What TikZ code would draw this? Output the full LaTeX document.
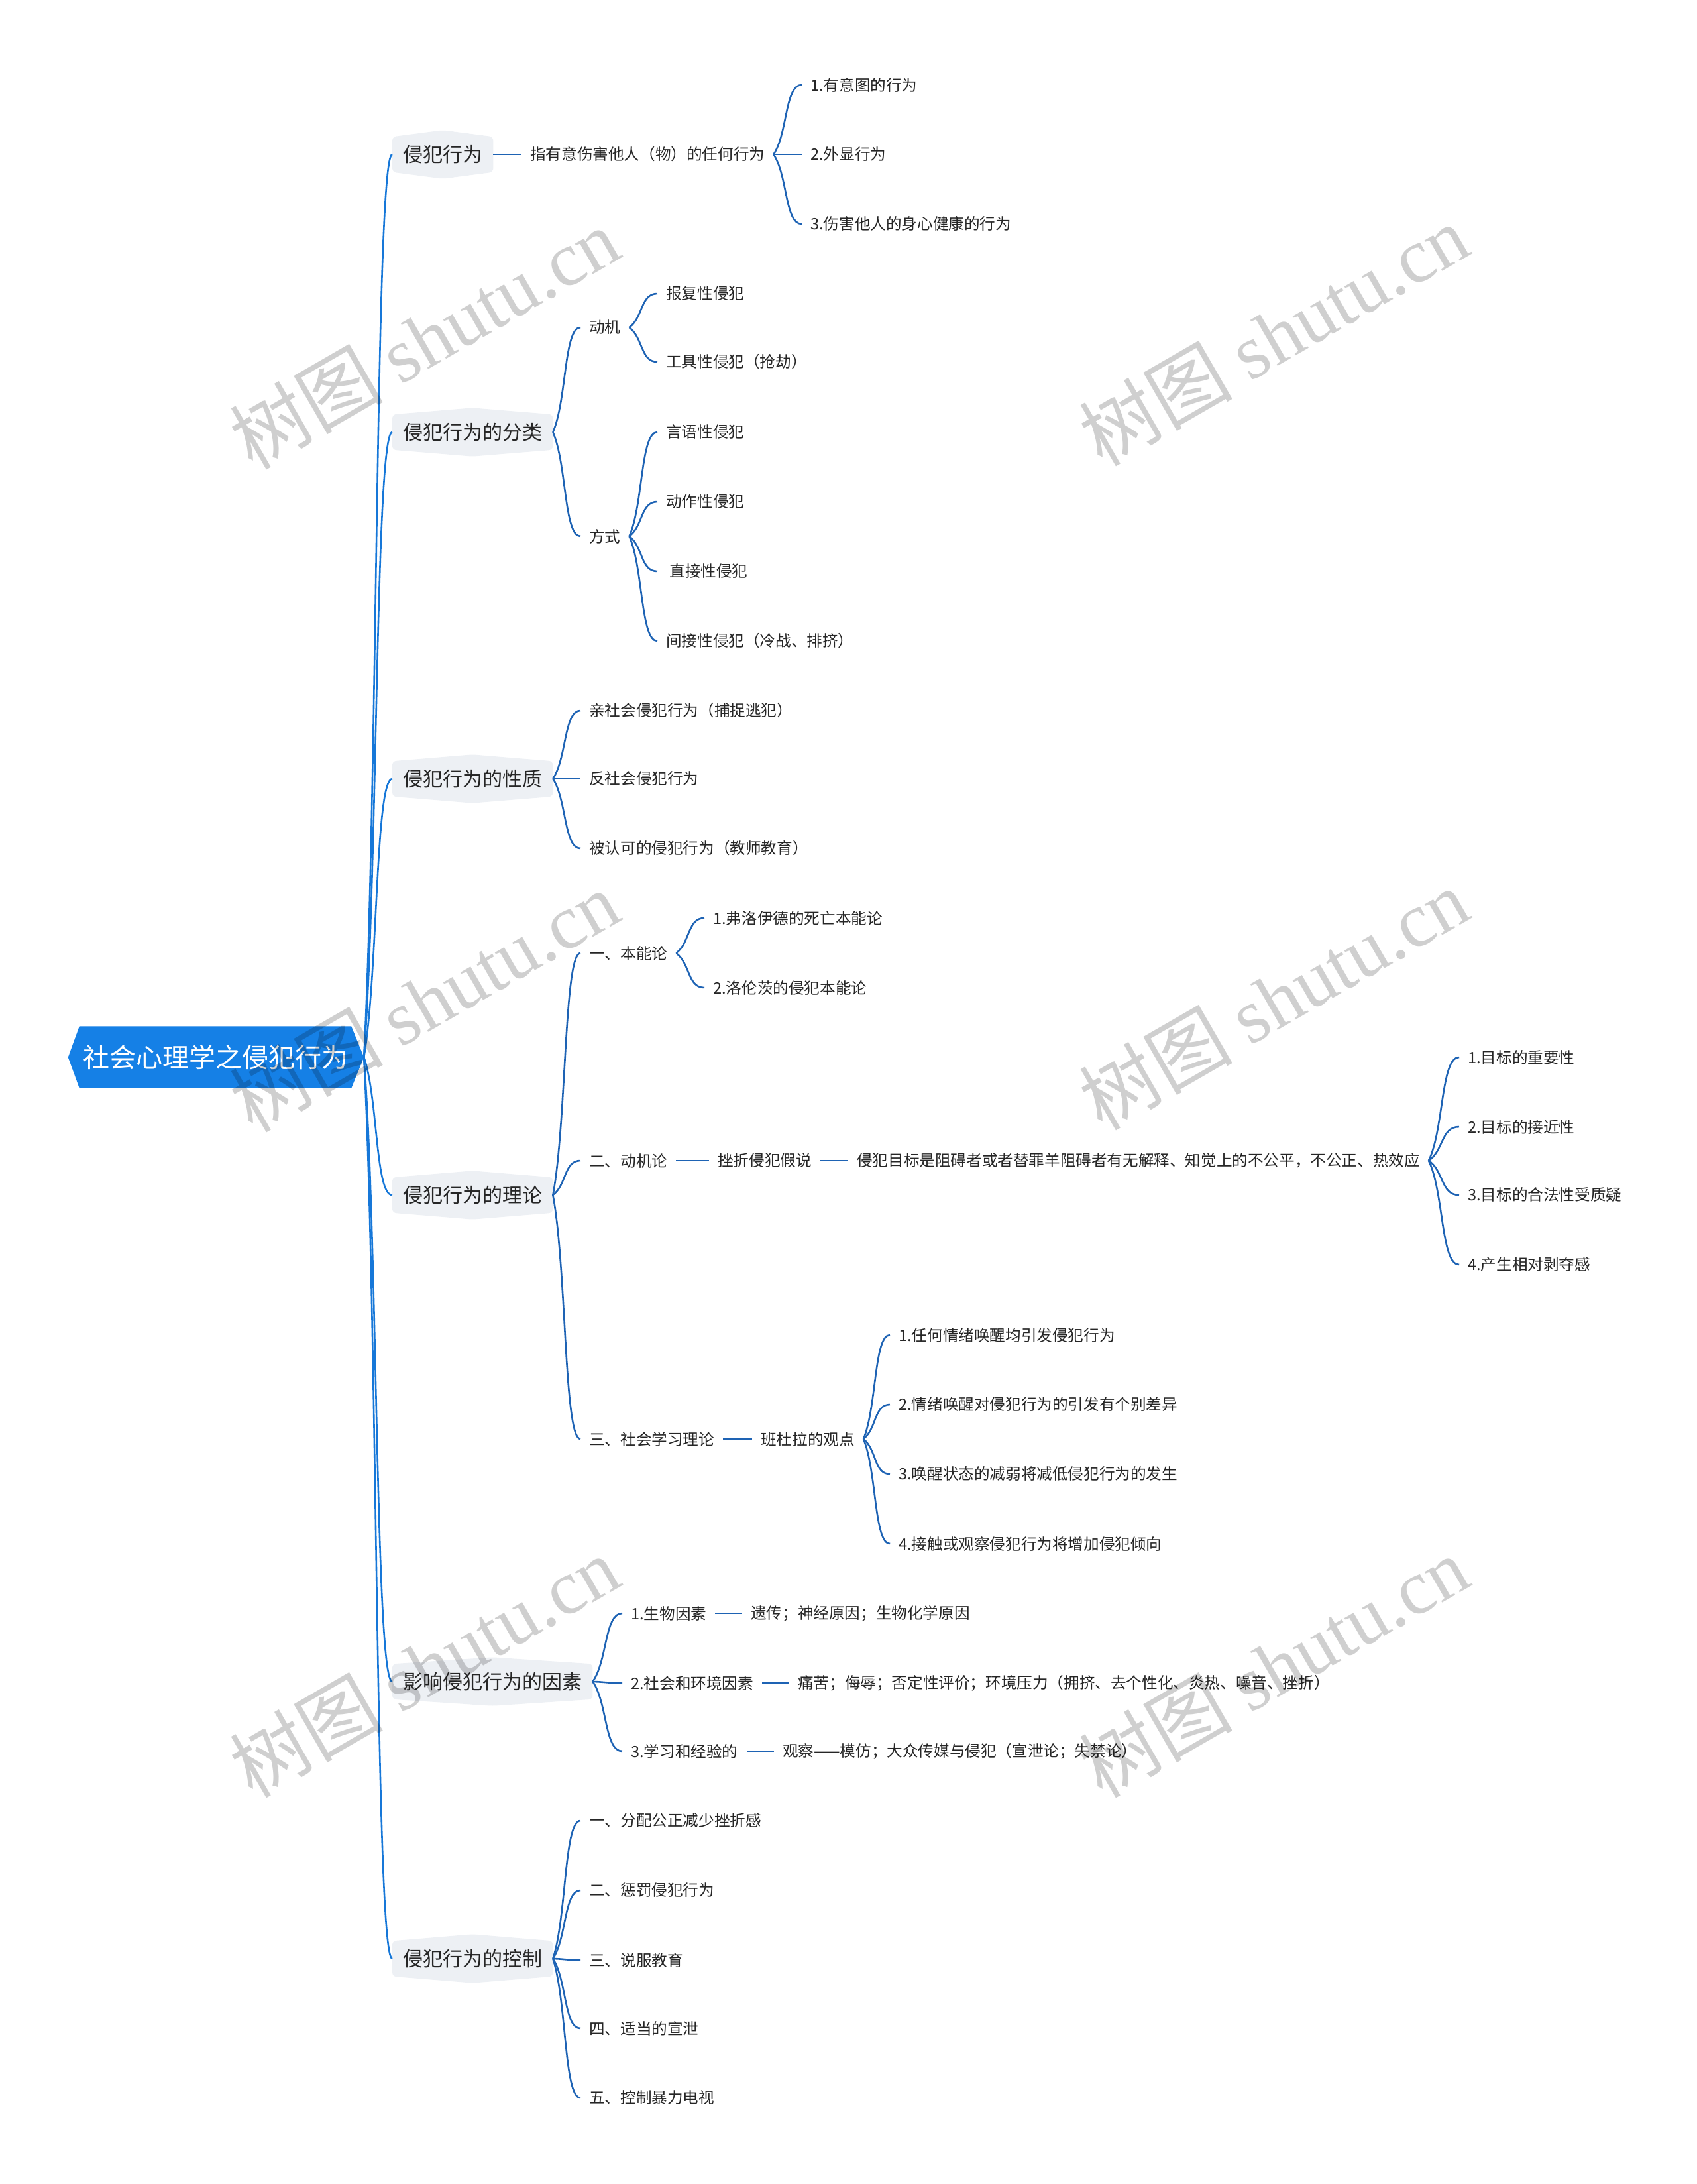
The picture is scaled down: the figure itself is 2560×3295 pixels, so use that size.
\documentclass[tikz,border=0pt]{standalone}
\usepackage{fontspec}
\setmainfont{Noto Sans CJK SC}
\newfontfamily\wmserif{Liberation Serif}
\usetikzlibrary{calc,positioning,backgrounds}
\definecolor{rootblue}{HTML}{1580E6}
\definecolor{trunkblue}{HTML}{1677D8}
\definecolor{linkblue}{HTML}{1E63B4}
\definecolor{topicgray}{HTML}{EDF0F4}
\definecolor{inkgray}{HTML}{262626}

\tikzset{
  brace/.style={to path={let \p1=(\tikztostart), \p2=(\tikztotarget) in
    .. controls ({\x1+0.5*(\x2-\x1)},{\y1+0.3*(\y2-\y1)}) and ({\x1+0.4*(\x2-\x1)},\y2) .. (\tikztotarget)}},
  rootnode/.style={font=\fontsize{40}{48}\selectfont, text=white, inner xsep=5pt, minimum height=93pt},
  topicnode/.style={font=\fontsize{30}{36}\selectfont, text=inkgray, inner xsep=16pt, minimum height=53pt, anchor=west},
  leaf/.style={font=\fontsize{23.6}{28}\selectfont, text=inkgray, inner xsep=13pt, inner ysep=4pt, anchor=west},
  trunk/.style={draw=trunkblue, line width=2.6pt},
  link/.style={draw=linkblue, line width=2.6pt},
  wmark/.style={rotate=30, text=black, text opacity=0.19, font=\fontsize{116}{120}\selectfont},
}

\begin{document}
\begin{tikzpicture}[x=1pt, y=-1pt]
\useasboundingbox (0,0) rectangle (2560,3295);

% root and main topics
\node[rootnode] (root) at (325,1595) {社会心理学之侵犯行为};
\coordinate (tip) at ($(root.east)+(19pt,0)$);
\node[topicnode] (t1) at (592,233) {侵犯行为};
\node[topicnode] (t2) at (592,652) {侵犯行为的分类};
\node[topicnode] (t3) at (592,1175) {侵犯行为的性质};
\node[topicnode] (t4) at (592,1803) {侵犯行为的理论};
\node[topicnode] (t5) at (592,2537) {影响侵犯行为的因素};
\node[topicnode] (t6) at (592,2955) {侵犯行为的控制};

% 侵犯行为
\node[leaf] (a) at (787,233) {指有意伤害他人（物）的任何行为};
\node[leaf] (a1) at (1210,128) {1.有意图的行为};
\node[leaf] (a2) at (1210,233) {2.外显行为};
\node[leaf] (a3) at (1210,338) {3.伤害他人的身心健康的行为};

% 分类
\node[leaf] (b1) at (876,494) {动机};
\node[leaf] (b2) at (876,809) {方式};
\node[leaf] (b11) at (992,443) {报复性侵犯};
\node[leaf] (b12) at (992,546) {工具性侵犯（抢劫）};
\node[leaf] (b21) at (992,652) {言语性侵犯};
\node[leaf] (b22) at (992,757) {动作性侵犯};
\node[leaf] (b23) at (992,862) {\ 直接性侵犯};
\node[leaf] (b24) at (992,967) {间接性侵犯（冷战、排挤）};

% 性质
\node[leaf] (c1) at (876,1072) {亲社会侵犯行为（捕捉逃犯）};
\node[leaf] (c2) at (876,1175) {反社会侵犯行为};
\node[leaf] (c3) at (876,1280) {被认可的侵犯行为（教师教育）};

% 理论
\node[leaf] (d1) at (876,1438) {一、本能论};
\node[leaf] (d2) at (876,1751) {二、动机论};
\node[leaf] (d3) at (876,2171) {三、社会学习理论};
\node[leaf] (d11) at (1063,1385) {1.弗洛伊德的死亡本能论};
\node[leaf] (d12) at (1063,1490) {2.洛伦茨的侵犯本能论};
\node[leaf] (d21) at (1070,1751) {挫折侵犯假说};
\node[leaf] (d22) at (1280,1751) {侵犯目标是阻碍者或者替罪羊阻碍者有无解释、知觉上的不公平，不公正、热效应};
\node[leaf] (d221) at (2202,1595) {1.目标的重要性};
\node[leaf] (d222) at (2202,1700) {2.目标的接近性};
\node[leaf] (d223) at (2202,1803) {3.目标的合法性受质疑};
\node[leaf] (d224) at (2202,1908) {4.产生相对剥夺感};
\node[leaf] (d31) at (1135,2171) {班杜拉的观点};
\node[leaf] (d311) at (1343,2014) {1.任何情绪唤醒均引发侵犯行为};
\node[leaf] (d312) at (1343,2119) {2.情绪唤醒对侵犯行为的引发有个别差异};
\node[leaf] (d313) at (1343,2224) {3.唤醒状态的减弱将减低侵犯行为的发生};
\node[leaf] (d314) at (1343,2329) {4.接触或观察侵犯行为将增加侵犯倾向};

% 因素
\node[leaf] (e1) at (939,2434) {1.生物因素};
\node[leaf] (e2) at (939,2539) {2.社会和环境因素};
\node[leaf] (e3) at (939,2642) {3.学习和经验的};
\node[leaf] (e11) at (1120,2434) {遗传；神经原因；生物化学原因};
\node[leaf] (e21) at (1191,2539) {痛苦；侮辱；否定性评价；环境压力（拥挤、去个性化、炎热、噪音、挫折）};
\node[leaf] (e31) at (1168,2642) {观察——模仿；大众传媒与侵犯（宣泄论；失禁论）};

% 控制
\node[leaf] (f1) at (876,2747) {一、分配公正减少挫折感};
\node[leaf] (f2) at (876,2852) {二、惩罚侵犯行为};
\node[leaf] (f3) at (876,2957) {三、说服教育};
\node[leaf] (f4) at (876,3060) {四、适当的宣泄};
\node[leaf] (f5) at (876,3165) {五、控制暴力电视};

\begin{scope}[on background layer]
  \fill[rootblue] (root.north west) -- (root.north east) -- (tip) -- (root.south east)
    -- (root.south west) -- ($(root.west)+(-17pt,0)$) -- cycle;
  \foreach \t in {t1,t2,t3,t4,t5,t6}
    \fill[topicgray, rounded corners=6pt] (\t.north west) -- ($(\t.north)+(0,10pt)$) -- (\t.north east)
      -- (\t.south east) -- ($(\t.south)+(0,-10pt)$) -- (\t.south west) -- cycle;
\end{scope}

% connectors
\foreach \t in {t1,t2,t3,t4,t5,t6}
  \draw[trunk] (tip) to[brace] (\t.west);
\foreach \a/\b in {t1/a, a/a1, a/a2, a/a3,
    t2/b1, t2/b2, b1/b11, b1/b12, b2/b21, b2/b22, b2/b23, b2/b24,
    t3/c1, t3/c2, t3/c3,
    t4/d1, t4/d2, t4/d3, d1/d11, d1/d12, d2/d21, d21/d22,
    d22/d221, d22/d222, d22/d223, d22/d224,
    d3/d31, d31/d311, d31/d312, d31/d313, d31/d314,
    t5/e1, t5/e2, t5/e3, e1/e11, e2/e21, e3/e31,
    t6/f1, t6/f2, t6/f3, t6/f4, t6/f5}
  \draw[link] (\a.east) to[brace] (\b.west);

% watermarks
\node[wmark] (w1) at (640,510) {树图 {\wmserif shutu.cn}};
\node[wmark] (w2) at (1922,505) {树图 {\wmserif shutu.cn}};
\node[wmark] (w3) at (640,1510) {树图 {\wmserif shutu.cn}};
\node[wmark] (w4) at (1922,1507) {树图 {\wmserif shutu.cn}};
\node[wmark] (w5) at (640,2514) {树图 {\wmserif shutu.cn}};
\node[wmark] (w6) at (1922,2514) {树图 {\wmserif shutu.cn}};
\end{tikzpicture}
\end{document}
